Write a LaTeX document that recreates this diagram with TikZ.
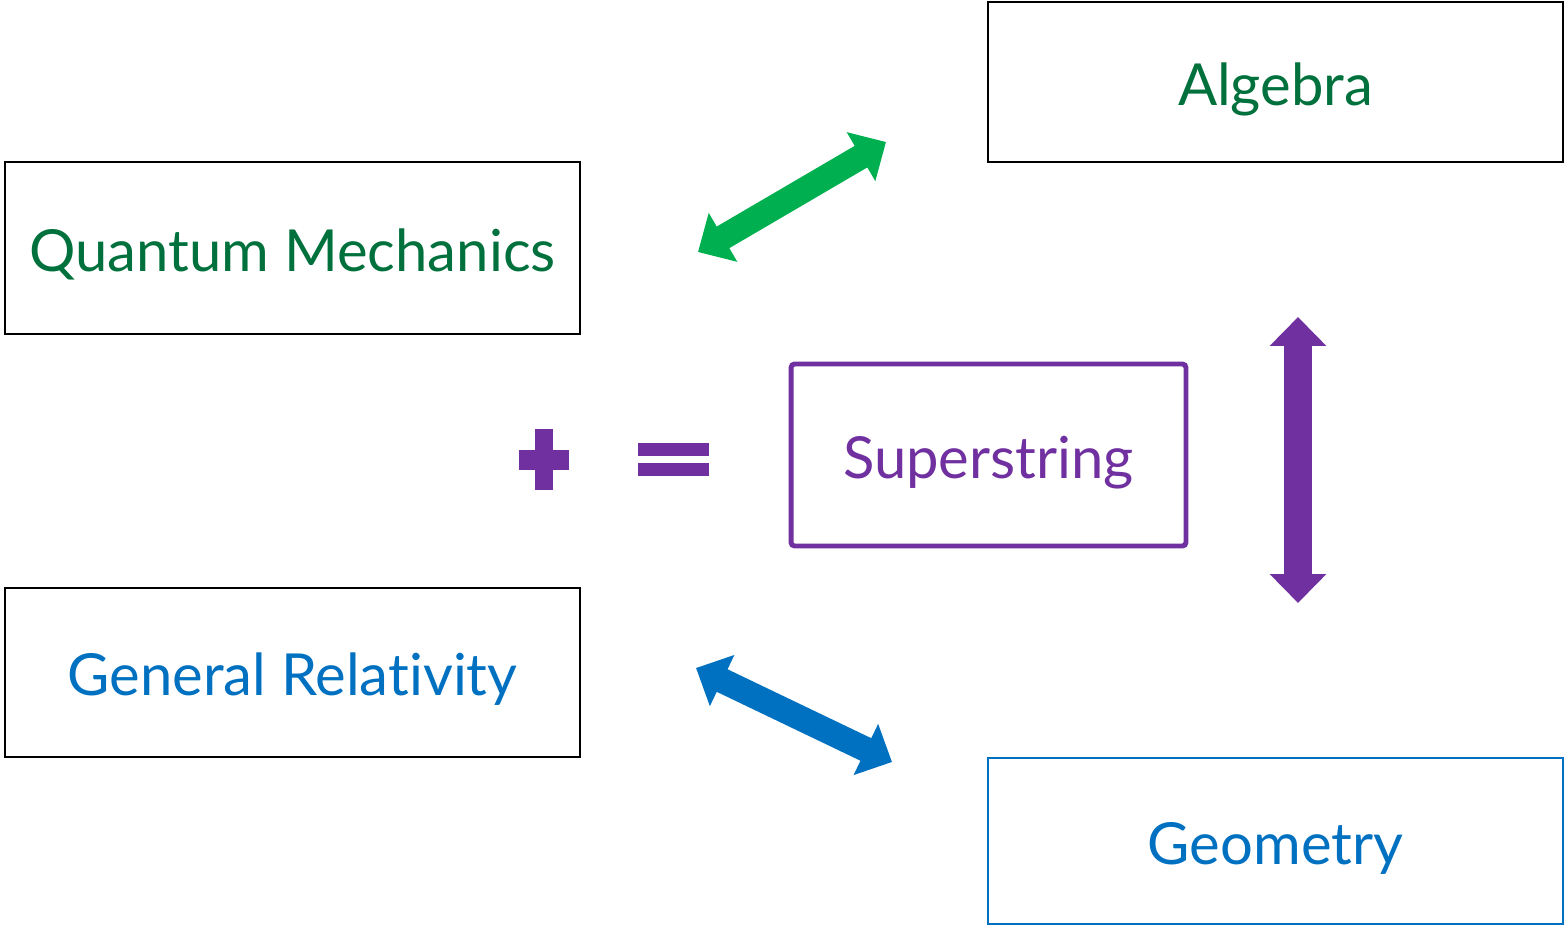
\documentclass[tikz,border=0pt]{standalone}
\usepackage{fontspec}
\setmainfont[Ligatures=NoCommon]{Lato}
\usepackage{xcolor}
\usetikzlibrary{arrows.meta,positioning}

\definecolor{qmgreen}{RGB}{0,112,60}
\definecolor{arrgreen}{RGB}{0,176,80}
\definecolor{grblue}{RGB}{0,112,192}
\definecolor{sspurple}{RGB}{112,48,160}

\begin{document}
\begin{tikzpicture}[x=0.02cm,y=-0.02cm,
  topic/.style={draw=#1,line width=0.85pt,minimum width=11.5cm,
                font=\fontsize{33}{40}\selectfont,inner sep=0pt,
                text height=33pt,text depth=6.6pt},
  blockarr/.style={draw=#1,line width=0.5cm,
                   {Triangle[width=1.1cm,length=0.58cm]}-{Triangle[width=1.1cm,length=0.58cm]}},
  sym/.style={fill=sspurple,draw=none}
]
\useasboundingbox (0,0) rectangle (1567,926);

\node[topic=black,minimum height=3.44cm,text=qmgreen] (qm)  at (292.5,248)   {Quantum Mechanics};
\node[topic=black,minimum height=3.38cm,text=grblue]  (gr)  at (292.5,672.5) {General Relativity};
\node[topic=black,minimum height=3.2cm,text=qmgreen]  (alg) at (1275.5,82)   {Algebra};
\node[topic=grblue,minimum height=3.32cm,text=grblue] (geo) at (1275.5,841)  {Geometry};
\node[topic=sspurple,line width=2.8pt,rounded corners=2pt,minimum width=7.9cm,
      minimum height=3.64cm,text=sspurple] (ss) at (988.5,455) {Superstring};

% arrow end points
\coordinate (qmend)  at (698,252);
\coordinate (algend) at (886,142);
\coordinate (grend)  at (696,668);
\coordinate (geoend) at (892,762);
\coordinate (sstop)  at (1298,317);
\coordinate (ssbot)  at (1298,603);

\draw[blockarr=arrgreen] (qmend) -- (algend);
\draw[blockarr=grblue]   (grend) -- (geoend);
\draw[blockarr=sspurple,line width=0.56cm] (sstop) -- (ssbot);

% plus and equals
\path[sym] (535,429) rectangle (553,490);
\path[sym] (519,450) rectangle (569,470);
\path[sym] (638,443) rectangle (709,456);
\path[sym] (638,463) rectangle (709,476);
\end{tikzpicture}
\end{document}
